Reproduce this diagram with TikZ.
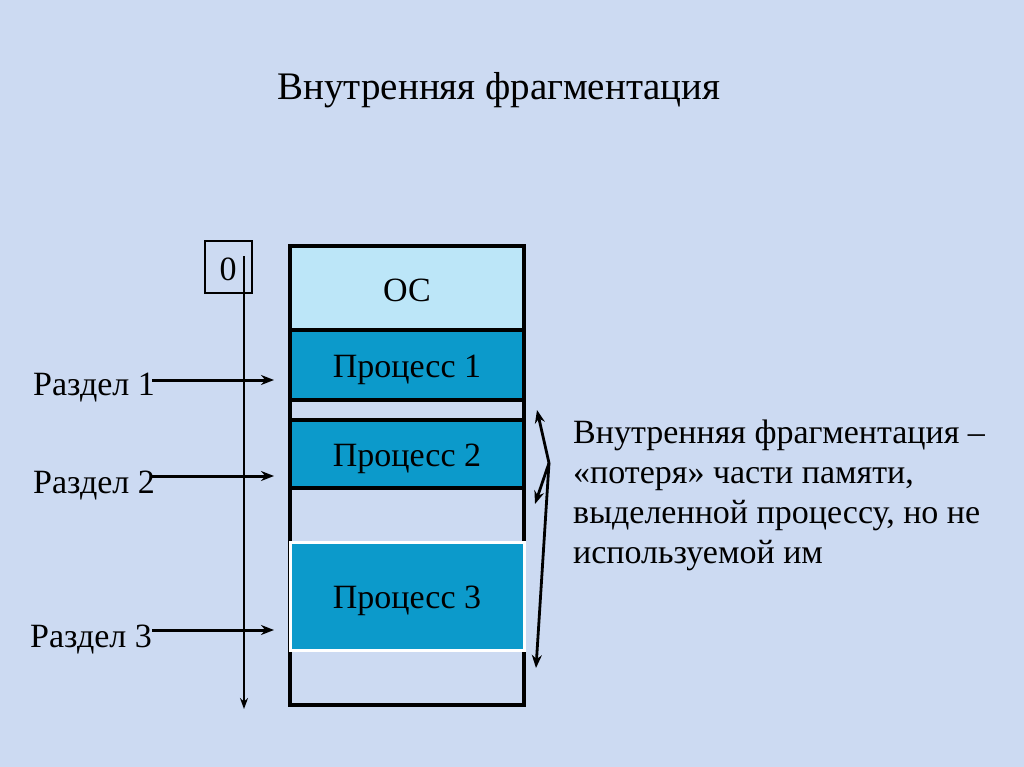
\documentclass[tikz,border=0pt]{standalone}
\usepackage{fontspec}
\setmainfont{Liberation Serif}
\usetikzlibrary{arrows.meta}
\definecolor{bgc}{HTML}{CCDAF2}
\definecolor{osc}{HTML}{BCE6F8}
\definecolor{prc}{HTML}{0C9ACB}
\tikzset{
  memframe/.style={draw=black,line width=3.8pt,minimum width=234pt,inner sep=0pt},
  procbox/.style={memframe,fill=prc},
  txt/.style={inner sep=0pt,font=\fontsize{34}{40}\selectfont},
  arr/.style={line width=3pt,-{Stealth[length=13pt,width=10pt]}},
}
\begin{document}
\begin{tikzpicture}[x=1pt,y=-1pt]
\fill[bgc] (0,0) rectangle (1024,767);
\useasboundingbox (0,0) rectangle (1024,767);
% title
\node[txt,font=\fontsize{39}{44}\selectfont,anchor=base] (title) at (499,100) {Внутренняя фрагментация};
% memory
\node[memframe,minimum height=459pt] (mem) at (407,475.5) {};
\node[memframe,fill=osc,minimum height=84pt] (os) at (407,288) {};
\node[txt,anchor=base] (ost) at (407,301) {ОС};
\node[procbox,minimum height=70pt] (p1) at (407,365) {};
\node[txt,anchor=base] (p1t) at (407,377) {Процесс 1};
\node[procbox,minimum height=68pt] (p2) at (407,454) {};
\node[txt,anchor=base] (p2t) at (407,466) {Процесс 2};
\node[draw=white,line width=3pt,fill=prc,minimum width=234pt,minimum height=108pt,inner sep=0pt] (p3) at (407,596) {};
\node[txt,anchor=base] (p3t) at (407,608) {Процесс 3};
% axis
\node[draw=black,line width=1.2pt,minimum width=47pt,minimum height=52pt,inner sep=0pt] (zero) at (228.5,267) {};
\node[txt,anchor=base] (zerot) at (228,280) {0};
\coordinate (axtop) at (244,256);
\coordinate (axbot) at (244,709);
\draw[line width=1.6pt,-{Stealth[length=11pt,width=8pt]}] (axtop) -- (axbot);
% partitions
\node[txt,anchor=base west] (r1) at (33,395) {Раздел 1};
\node[txt,anchor=base west] (r2) at (33,493) {Раздел 2};
\node[txt,anchor=base west] (r3) at (30,647) {Раздел 3};
\coordinate (a1s) at (152,380); \coordinate (a1e) at (274,380);
\coordinate (a2s) at (152,476); \coordinate (a2e) at (274,476);
\coordinate (a3s) at (152,630); \coordinate (a3e) at (274,630);
\draw[arr] (a1s) -- (a1e);
\draw[arr] (a2s) -- (a2e);
\draw[arr] (a3s) -- (a3e);
% brace arrows
\coordinate (v) at (549,463);
\coordinate (b1) at (537,410);
\coordinate (b2) at (535,504);
\coordinate (b3) at (536,668);
\draw[arr,line width=2.8pt] (v) -- (b1);
\draw[arr,line width=2.8pt] (v) -- (b2);
\draw[arr,line width=2.8pt] (v) -- (b3);
% description
\node[txt,anchor=base west] (t1) at (573,443) {Внутренняя фрагментация –};
\node[txt,anchor=base west] (t2) at (573,483) {«потеря» части памяти,};
\node[txt,anchor=base west] (t3) at (573,523) {выделенной процессу, но не};
\node[txt,anchor=base west] (t4) at (573,563) {используемой им};
\end{tikzpicture}
\end{document}
